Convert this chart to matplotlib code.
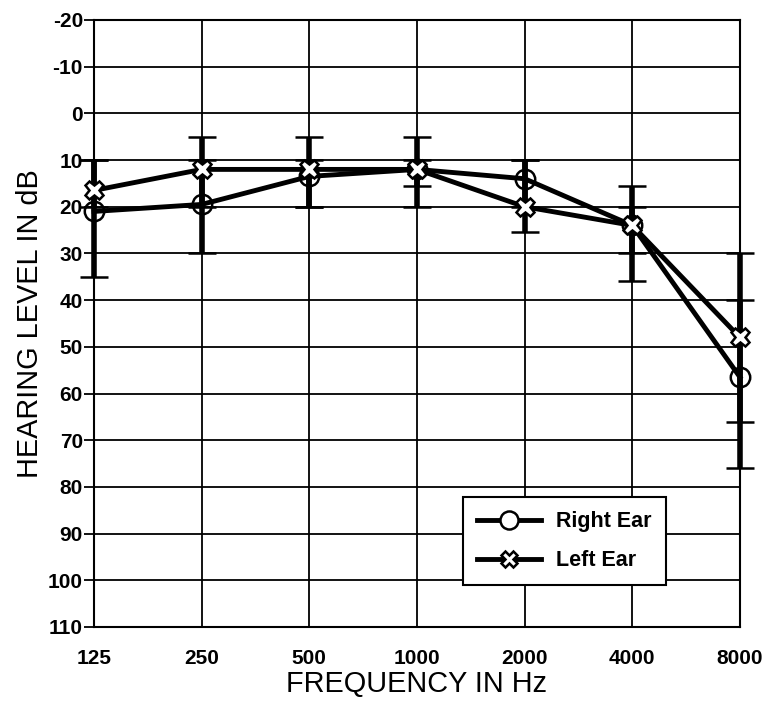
# audiogram: mean hearing level by frequency, right vs left ear

import numpy as np
import matplotlib.pyplot as plt
from matplotlib.lines import Line2D

freqs = ['125', '250', '500', '1000', '2000', '4000', '8000']
right_ear = [21, 19.5, 13.5, 12, 14, 24, 56.5]
right_low = [10, 10, 10, 10, 10, 15.5, 40]
right_high = [35, 30, 20, 15.5, 20, 36, 76]
left_ear = [16.5, 12, 12, 12, 20, 24, 48]
left_low = [10, 5, 5, 5, 10, 20, 30]
left_high = [20, 20, 20, 20, 25.5, 30, 66]
y_ticks = list(range(-20, 111, 10))

plt.rcParams['font.family'] = ['Liberation Sans', 'DejaVu Sans']

fig = plt.figure(figsize=(7.68, 7.04), dpi=100)
ax = fig.add_axes([0.1224, 0.1094, 0.8411, 0.8622])

x = np.arange(len(freqs))

for spine in ax.spines.values():
    spine.set_linewidth(1.5)
ax.grid(True, color='black', linewidth=1.3)
ax.set_axisbelow(True)

r_err = [np.subtract(right_ear, right_low), np.subtract(right_high, right_ear)]
l_err = [np.subtract(left_ear, left_low), np.subtract(left_high, left_ear)]

ax.errorbar(x, right_ear, yerr=r_err, color='black', linewidth=3.5,
            marker='o', markersize=14, markerfacecolor='none', markeredgewidth=1.8,
            elinewidth=4, capsize=10, capthick=1.5, clip_on=False, zorder=3)
ax.errorbar(x, left_ear, yerr=l_err, color='black', linewidth=3.5,
            marker='X', markersize=13, markerfacecolor='white', markeredgecolor='black',
            markeredgewidth=1.8, elinewidth=4, capsize=10, capthick=1.5,
            clip_on=False, zorder=3)

ax.set_xlim(0, len(freqs) - 1)
ax.set_ylim(110, -20)
ax.set_xticks(x)
ax.set_xticklabels(freqs, fontsize=15, fontweight='bold')
ax.set_yticks(y_ticks)
ax.set_yticklabels([str(v) for v in y_ticks], fontsize=15, fontweight='bold')
ax.tick_params(axis='x', length=0, pad=16)
ax.tick_params(axis='y', length=7, width=1.3, pad=1)

ax.set_xlabel('FREQUENCY IN Hz', fontsize=20.8, labelpad=1)
ax.set_ylabel('HEARING LEVEL IN dB', fontsize=20.8, labelpad=3)

handles = [
    Line2D([], [], color='black', linewidth=3.5, marker='o', markersize=13,
           markerfacecolor='white', markeredgewidth=1.8),
    Line2D([], [], color='black', linewidth=3.5, marker='X', markersize=12,
           markerfacecolor='white', markeredgewidth=1.8),
]
leg = ax.legend(handles, ['Right Ear', 'Left Ear'], loc='upper left',
                bbox_to_anchor=(0.571, 0.214), borderaxespad=0, fancybox=False,
                framealpha=1, edgecolor='black', prop={'weight': 'bold', 'size': 15.5},
                borderpad=0.65, labelspacing=0.85, handlelength=3.0, handletextpad=0.7)
leg.get_frame().set_linewidth(1.5)

plt.savefig('out.png', dpi=100)
